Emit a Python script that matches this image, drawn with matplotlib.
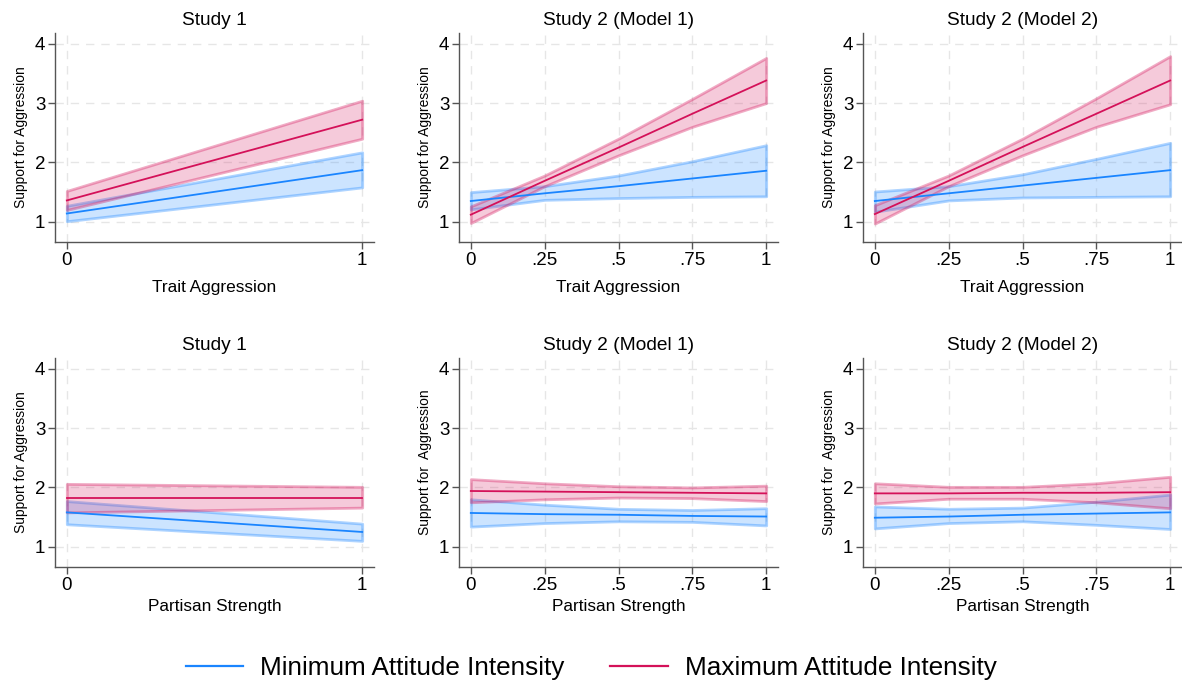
import matplotlib
matplotlib.use("Agg")
import matplotlib.pyplot as plt
from matplotlib.lines import Line2D

plt.rcParams['font.family'] = ['Liberation Sans', 'DejaVu Sans']

# ---------------- data ----------------
x_s1 = [0, 1]
x_s2 = [0, 0.25, 0.5, 0.75, 1]
xticks_s1 = [0, 1]
xticklabels_s1 = ["0", "1"]
xticks_s2 = [0, 0.25, 0.5, 0.75, 1]
xticklabels_s2 = ["0", ".25", ".5", ".75", "1"]
yticks = [1, 2, 3, 4]

titles = ["Study 1", "Study 2 (Model 1)", "Study 2 (Model 2)"]
xlabels = ["Trait Aggression", "Partisan Strength"]
ylabels_top = ["Support for Aggression"] * 3
ylabels_bottom = ["Support for Aggression", "Support for  Aggression", "Support for  Aggression"]
series_labels = ["Minimum Attitude Intensity", "Maximum Attitude Intensity"]

# Study 1 - trait aggression
s1_trait_min_mean = [1.14, 1.87]
s1_trait_min_lo = [1.01, 1.58]
s1_trait_min_hi = [1.27, 2.17]
s1_trait_max_mean = [1.36, 2.72]
s1_trait_max_lo = [1.20, 2.40]
s1_trait_max_hi = [1.52, 3.04]

# Study 2 Model 1 - trait aggression
m1_trait_min_mean = [1.35, 1.48, 1.60, 1.73, 1.86]
m1_trait_min_lo = [1.21, 1.37, 1.40, 1.42, 1.43]
m1_trait_min_hi = [1.50, 1.60, 1.78, 2.02, 2.29]
m1_trait_max_mean = [1.12, 1.69, 2.25, 2.82, 3.38]
m1_trait_max_lo = [0.98, 1.60, 2.12, 2.60, 3.00]
m1_trait_max_hi = [1.26, 1.78, 2.40, 3.07, 3.76]

# Study 2 Model 2 - trait aggression
m2_trait_min_mean = [1.35, 1.48, 1.61, 1.74, 1.87]
m2_trait_min_lo = [1.17, 1.36, 1.41, 1.42, 1.43]
m2_trait_min_hi = [1.51, 1.60, 1.80, 2.06, 2.33]
m2_trait_max_mean = [1.13, 1.69, 2.26, 2.82, 3.38]
m2_trait_max_lo = [0.97, 1.60, 2.12, 2.60, 2.98]
m2_trait_max_hi = [1.28, 1.78, 2.40, 3.08, 3.79]

# Study 1 - partisan strength
s1_part_min_mean = [1.58, 1.25]
s1_part_min_lo = [1.38, 1.10]
s1_part_min_hi = [1.77, 1.39]
s1_part_max_mean = [1.83, 1.83]
s1_part_max_lo = [1.58, 1.66]
s1_part_max_hi = [2.06, 2.01]

# Study 2 Model 1 - partisan strength
m1_part_min_mean = [1.57, 1.55, 1.54, 1.52, 1.51]
m1_part_min_lo = [1.34, 1.40, 1.43, 1.42, 1.36]
m1_part_min_hi = [1.80, 1.71, 1.64, 1.62, 1.65]
m1_part_max_mean = [1.94, 1.93, 1.92, 1.91, 1.90]
m1_part_max_lo = [1.75, 1.80, 1.83, 1.82, 1.77]
m1_part_max_hi = [2.14, 2.07, 2.02, 2.00, 2.03]

# Study 2 Model 2 - partisan strength
m2_part_min_mean = [1.49, 1.51, 1.54, 1.56, 1.58]
m2_part_min_lo = [1.31, 1.40, 1.43, 1.37, 1.30]
m2_part_min_hi = [1.68, 1.64, 1.66, 1.76, 1.88]
m2_part_max_mean = [1.90, 1.90, 1.91, 1.91, 1.92]
m2_part_max_lo = [1.73, 1.81, 1.81, 1.75, 1.65]
m2_part_max_hi = [2.07, 2.01, 2.01, 2.07, 2.18]

# ---------------- styling ----------------
BLUE = (26/255, 133/255, 255/255)
RED = (212/255, 17/255, 89/255)
GRID = "#e6e6e6"
SPINE = "#555555"

W, H = 1182, 683
fig = plt.figure(figsize=(W/100, H/100), dpi=100)

col_left = [55, 459, 863]
ax_w = 319
row_top = [33, 358]
ax_h = 209
xlabel_pads = [8, 4]

panels = [
    (0, 0, x_s1, xticks_s1, xticklabels_s1,
     (s1_trait_min_mean, s1_trait_min_lo, s1_trait_min_hi),
     (s1_trait_max_mean, s1_trait_max_lo, s1_trait_max_hi)),
    (0, 1, x_s2, xticks_s2, xticklabels_s2,
     (m1_trait_min_mean, m1_trait_min_lo, m1_trait_min_hi),
     (m1_trait_max_mean, m1_trait_max_lo, m1_trait_max_hi)),
    (0, 2, x_s2, xticks_s2, xticklabels_s2,
     (m2_trait_min_mean, m2_trait_min_lo, m2_trait_min_hi),
     (m2_trait_max_mean, m2_trait_max_lo, m2_trait_max_hi)),
    (1, 0, x_s1, xticks_s1, xticklabels_s1,
     (s1_part_min_mean, s1_part_min_lo, s1_part_min_hi),
     (s1_part_max_mean, s1_part_max_lo, s1_part_max_hi)),
    (1, 1, x_s2, xticks_s2, xticklabels_s2,
     (m1_part_min_mean, m1_part_min_lo, m1_part_min_hi),
     (m1_part_max_mean, m1_part_max_lo, m1_part_max_hi)),
    (1, 2, x_s2, xticks_s2, xticklabels_s2,
     (m2_part_min_mean, m2_part_min_lo, m2_part_min_hi),
     (m2_part_max_mean, m2_part_max_lo, m2_part_max_hi)),
]

for row, col, xs, xt, xtl, mn, mx in panels:
    left = col_left[col] / W
    bottom = 1 - (row_top[row] + ax_h) / H
    ax = fig.add_axes([left, bottom, ax_w / W, ax_h / H])

    for (mean, lo, hi), c in ((mn, BLUE), (mx, RED)):
        ax.fill_between(xs, lo, hi, facecolor=(*c, 0.22), edgecolor=(*c, 0.35),
                        linewidth=2.0, zorder=2)
    for (mean, lo, hi), c in ((mn, BLUE), (mx, RED)):
        ax.plot(xs, mean, color=c, lw=1.3, zorder=3)

    ax.set_xlim(-0.04, 1.04)
    ax.set_ylim(0.66, 4.18)
    ax.set_xticks(xt)
    ax.set_xticklabels(xtl)
    ax.set_yticks(yticks)
    ax.set_yticklabels([str(v) for v in yticks])
    ax.grid(True, color=GRID, linestyle=(0, (6, 5)), linewidth=1.0, zorder=0)
    ax.set_axisbelow(True)
    for s in ("top", "right"):
        ax.spines[s].set_visible(False)
    for s in ("left", "bottom"):
        ax.spines[s].set_color(SPINE)
        ax.spines[s].set_linewidth(1.0)
    ax.tick_params(axis="both", direction="out", length=5, width=1.0,
                   color=SPINE, labelsize=13.5, pad=2)
    ax.set_title(titles[col], fontsize=13.8, pad=6)
    ax.set_xlabel(xlabels[row], fontsize=12.4, labelpad=xlabel_pads[row])
    ylab = ylabels_top[col] if row == 0 else ylabels_bottom[col]
    ax.set_ylabel(ylab, fontsize=10, labelpad=5)

handles = [Line2D([0], [0], color=BLUE, lw=1.6),
           Line2D([0], [0], color=RED, lw=1.6)]
fig.legend(handles, series_labels, loc="center", bbox_to_anchor=(0.5, 1 - 668/H),
           ncol=2, frameon=False, handlelength=2.2, handletextpad=0.65,
           columnspacing=1.75, prop={"size": 18.8})

fig.savefig("out.png", dpi=100)
